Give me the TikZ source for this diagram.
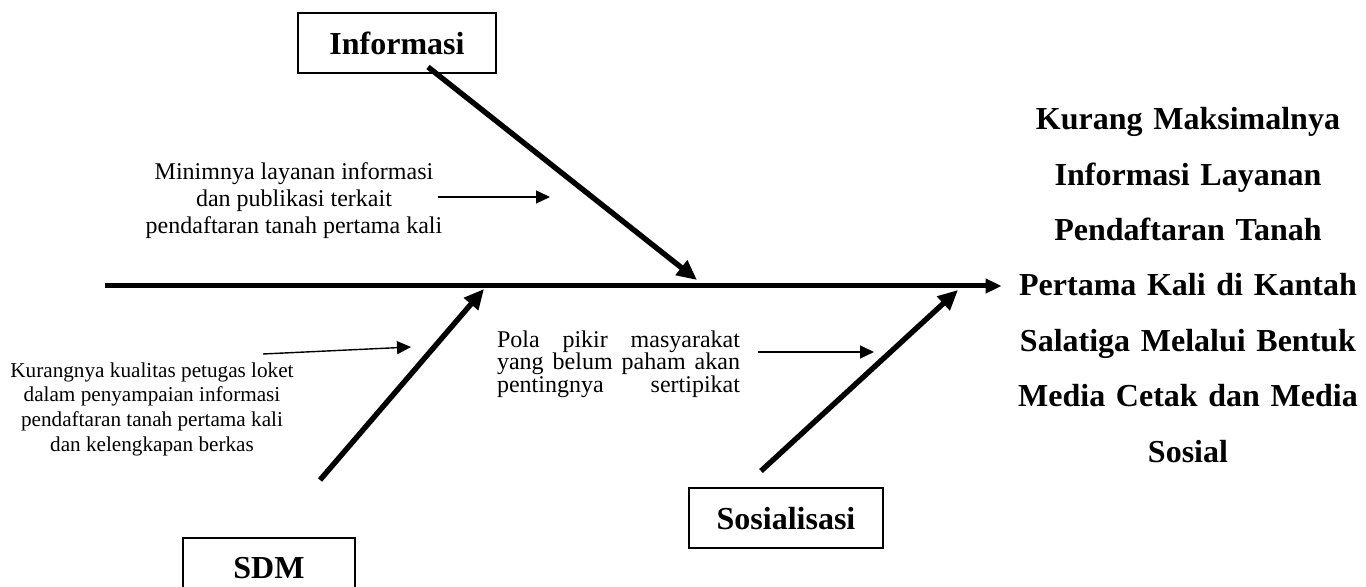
\documentclass[tikz,border=0pt]{standalone}
\usepackage{fontspec}
\setmainfont{Liberation Serif}
\usetikzlibrary{arrows.meta}
\begin{document}
\begin{tikzpicture}[x=0.5pt, y=-0.5pt,
  kategori/.style={draw, line width=1pt, minimum height=30pt, inner sep=0pt,
    font=\fontsize{16}{19}\selectfont\bfseries},
  tulang/.style={line width=2.5pt, -{Triangle[length=8pt,width=7pt]}},
  cabang/.style={line width=2.7pt, -{Triangle[length=10pt,width=9pt]}},
  sebab/.style={line width=0.7pt, -{Triangle[length=7pt,width=6.5pt]}}]

\useasboundingbox (0,0) rectangle (1366,587);

% ── Masalah (kepala ikan) ─────────────────────────────────────
\node[align=center, text width=170pt, inner xsep=8pt,
      font=\fontsize{16}{27.7}\selectfont\bfseries] (masalah) at (1188, 285)
  {Kurang Maksimalnya\\ Informasi Layanan\\ Pendaftaran Tanah\\
   Pertama Kali di Kantah\\ Salatiga Melalui Bentuk\\
   Media Cetak dan Media\\ Sosial};

% Tulang utama
\coordinate (ekor) at (105, 286);
\draw[tulang] (ekor) -- (ekor -| masalah.west);

% ── Kategori ──────────────────────────────────────────────────
\node[kategori, minimum width=99pt] (info) at (397, 43)    {Informasi};
\node[kategori, minimum width=86pt] (sdm)  at (269, 568)   {SDM};
\node[kategori, minimum width=97pt] (sos)  at (786, 518.5) {Sosialisasi};

% Tulang cabang: pangkal dekat kotak, ujung di tulang utama
\coordinate (p1) at (428, 67);   \coordinate (u1) at (697, 280);
\coordinate (p2) at (320, 480);  \coordinate (u2) at (484, 289);
\coordinate (p3) at (761, 471);  \coordinate (u3) at (958, 290);
\draw[cabang] (p1) -- (u1);
\draw[cabang] (p2) -- (u2);
\draw[cabang] (p3) -- (u3);

% ── Penyebab ──────────────────────────────────────────────────
\node[align=center, font=\fontsize{12}{13.5}\selectfont] (s1) at (294, 201)
  {Minimnya layanan informasi\\ dan publikasi terkait\\
   pendaftaran tanah pertama kali};
\node[align=center, font=\fontsize{10.6}{12.35}\selectfont] (s2) at (152, 409)
  {Kurangnya kualitas petugas loket\\ dalam penyampaian informasi\\
   pendaftaran tanah pertama kali\\ dan kelengkapan berkas};
\node[align=left, inner xsep=0pt, font=\fontsize{12}{11.3}\selectfont] (s3)
  at (618.5, 364)
  {\makebox[121.5pt][s]{Pola pikir masyarakat}\\
   \makebox[121.5pt][s]{yang belum paham akan}\\
   \makebox[121.5pt][s]{pentingnya sertipikat}};

% Panah penyebab
\coordinate (a1) at (438, 197);  \coordinate (b1) at (550, 197);
\coordinate (a2) at (263, 354);  \coordinate (b2) at (411, 347);
\coordinate (a3) at (758, 352);  \coordinate (b3) at (874, 352);
\draw[sebab] (a1) -- (b1);
\draw[sebab] (a2) -- (b2);
\draw[sebab] (a3) -- (b3);

\end{tikzpicture}
\end{document}
